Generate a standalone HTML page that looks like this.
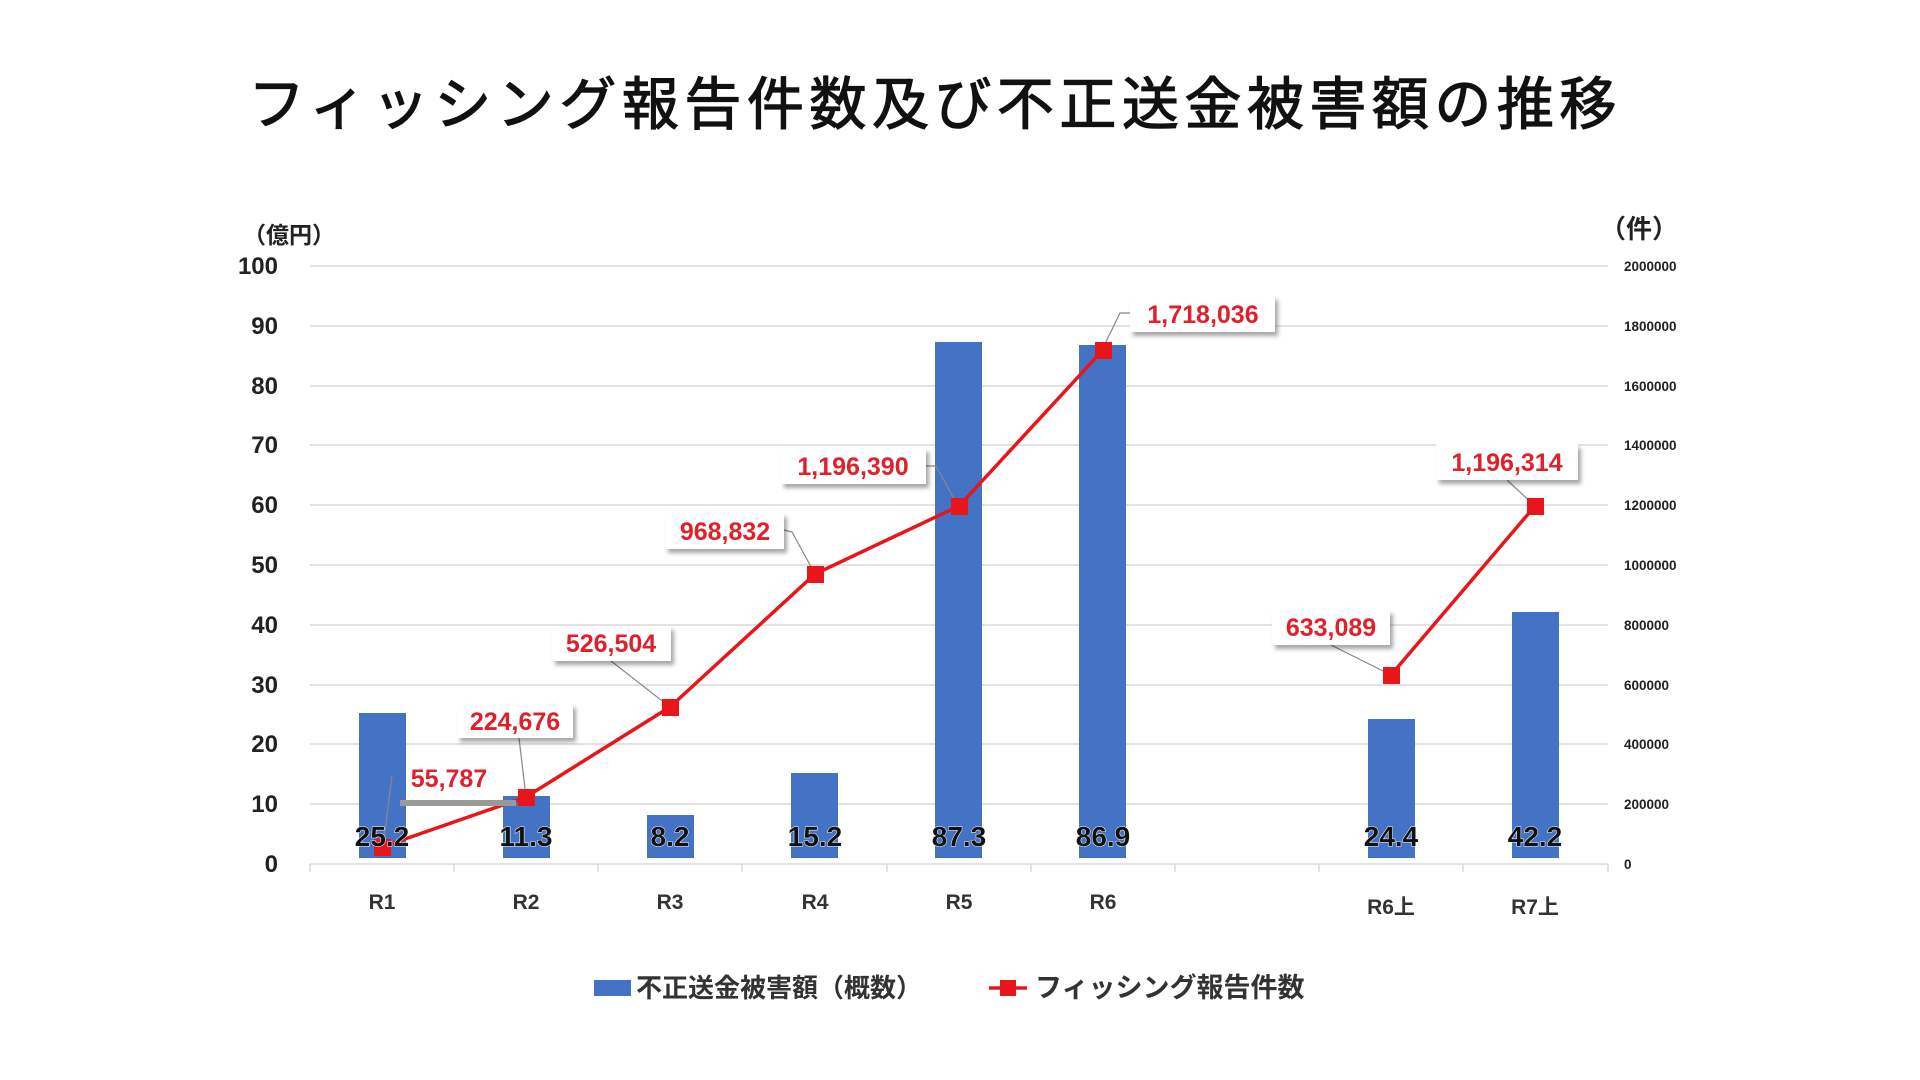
<!DOCTYPE html>
<html><head><meta charset="utf-8"><style>
html,body{margin:0;padding:0;background:#fff;}
svg{display:block;font-family:"Liberation Sans","Noto Sans CJK JP",sans-serif;}
</style></head><body>
<svg width="1920" height="1080" viewBox="0 0 1920 1080" xmlns="http://www.w3.org/2000/svg">
<defs>
<filter id="sh" x="-10%" y="-10%" width="130%" height="150%"><feDropShadow dx="3" dy="4" stdDeviation="2" flood-color="#000" flood-opacity="0.35"/></filter>
</defs>
<text x="935" y="124" font-size="57" text-anchor="middle" letter-spacing="5.5" fill="#111" stroke="#111" stroke-width="1.2" font-family="'Noto Sans CJK JP',sans-serif">フィッシング報告件数及び不正送金被害額の推移</text>
<!-- gridlines -->
<g stroke="#d9d9d9" stroke-width="1.5">
<line x1="310" x2="1608" y1="266" y2="266"/><line x1="310" x2="1608" y1="326" y2="326"/>
<line x1="310" x2="1608" y1="386" y2="386"/><line x1="310" x2="1608" y1="445" y2="445"/>
<line x1="310" x2="1608" y1="505" y2="505"/><line x1="310" x2="1608" y1="565" y2="565"/>
<line x1="310" x2="1608" y1="625" y2="625"/><line x1="310" x2="1608" y1="685" y2="685"/>
<line x1="310" x2="1608" y1="744" y2="744"/><line x1="310" x2="1608" y1="804" y2="804"/>
<line x1="310" x2="1608" y1="864" y2="864"/>
</g>
<g stroke="#d9d9d9" stroke-width="1.5">
<line x1="310" x2="310" y1="864" y2="872"/><line x1="454" x2="454" y1="864" y2="872"/><line x1="598" x2="598" y1="864" y2="872"/><line x1="742" x2="742" y1="864" y2="872"/><line x1="887" x2="887" y1="864" y2="872"/><line x1="1031" x2="1031" y1="864" y2="872"/><line x1="1175" x2="1175" y1="864" y2="872"/><line x1="1319" x2="1319" y1="864" y2="872"/><line x1="1463" x2="1463" y1="864" y2="872"/><line x1="1608" x2="1608" y1="864" y2="872"/>
</g>
<!-- left axis -->
<g font-size="24" font-weight="bold" fill="#222" text-anchor="end">
<text x="278" y="274">100</text><text x="278" y="334">90</text><text x="278" y="394">80</text><text x="278" y="453">70</text><text x="278" y="513">60</text><text x="278" y="573">50</text><text x="278" y="633">40</text><text x="278" y="693">30</text><text x="278" y="752">20</text><text x="278" y="812">10</text><text x="278" y="872">0</text>
</g>
<text x="243" y="243" font-size="23" font-weight="bold" fill="#222">（億円）</text>
<text x="1600" y="238" font-size="26" font-weight="bold" fill="#222">（件）</text>
<g font-size="13.5" font-weight="bold" fill="#222">
<text x="1624" y="271">2000000</text><text x="1624" y="331">1800000</text><text x="1624" y="391">1600000</text><text x="1624" y="450">1400000</text><text x="1624" y="510">1200000</text><text x="1624" y="570">1000000</text><text x="1624" y="630">800000</text><text x="1624" y="690">600000</text><text x="1624" y="749">400000</text><text x="1624" y="809">200000</text><text x="1624" y="869">0</text>
</g>
<!-- bars -->
<g fill="#4472C4">
<rect x="359" y="713" width="47" height="145"/>
<rect x="503" y="796" width="47" height="62"/>
<rect x="647" y="815" width="47" height="43"/>
<rect x="791" y="773" width="47" height="85"/>
<rect x="935" y="342" width="47" height="516"/>
<rect x="1079" y="345" width="47" height="513"/>
<rect x="1368" y="719" width="47" height="139"/>
<rect x="1512" y="612" width="47" height="246"/>
</g>
<!-- leader lines -->
<g stroke="#888" stroke-width="1.2" fill="none">
<polyline points="392,775 383,848"/>
<polyline points="519,738 526,797"/>
<polyline points="611,661 670,707"/>
<polyline points="784,530 792,532 815,574"/>
<polyline points="926,466 936,466 958,506"/>
<polyline points="1130,313 1120,313 1102,350"/>
<polyline points="1331,645 1391,675"/>
<polyline points="1507,480 1535,506"/>
</g>
<!-- line -->
<polyline fill="none" stroke="#e8161b" stroke-width="3.5" points="382,847 526,797 670,707 815,574 959,506 1103,350"/>
<polyline fill="none" stroke="#e8161b" stroke-width="3.5" points="1391,675 1535,506"/>
<g fill="#e8161b">
<rect x="374" y="839" width="17" height="17"/><rect x="518" y="789" width="17" height="17"/><rect x="662" y="699" width="17" height="17"/><rect x="807" y="566" width="17" height="17"/><rect x="951" y="498" width="17" height="17"/><rect x="1095" y="342" width="17" height="17"/><rect x="1383" y="667" width="17" height="17"/><rect x="1527" y="498" width="17" height="17"/>
</g>
<!-- value labels -->
<g font-size="28" font-weight="bold" fill="#111" text-anchor="middle" stroke="#fff" stroke-width="1" paint-order="stroke">
<text x="382" y="846">25.2</text><text x="526" y="846">11.3</text><text x="670" y="846">8.2</text><text x="815" y="846">15.2</text><text x="959" y="846">87.3</text><text x="1103" y="846">86.9</text><text x="1391" y="846">24.4</text><text x="1535" y="846">42.2</text>
</g>
<!-- data label boxes -->
<rect x="400" y="800" width="116" height="6" fill="#999"/>
<g fill="#fff" filter="url(#sh)">
<rect x="457" y="704" width="116" height="34"/>
<rect x="552" y="626" width="119" height="35"/>
<rect x="665" y="513" width="119" height="36"/>
<rect x="781" y="448" width="145" height="36"/>
<rect x="1130" y="296" width="145" height="36"/>
<rect x="1272" y="610" width="118" height="35"/>
<rect x="1436" y="444" width="142" height="36"/>
</g>
<g font-size="25" font-weight="bold" fill="#e0202a" text-anchor="middle">
<text x="449" y="787">55,787</text>
<text x="515" y="730">224,676</text>
<text x="611" y="652">526,504</text>
<text x="725" y="540">968,832</text>
<text x="853" y="475">1,196,390</text>
<text x="1203" y="323">1,718,036</text>
<text x="1331" y="636">633,089</text>
<text x="1507" y="471">1,196,314</text>
</g>
<!-- category labels -->
<g font-size="21" font-weight="bold" fill="#333" text-anchor="middle">
<text x="382" y="909">R1</text><text x="526" y="909">R2</text><text x="670" y="909">R3</text><text x="815" y="909">R4</text><text x="959" y="909">R5</text><text x="1103" y="909">R6</text><text x="1391" y="914">R6上</text><text x="1535" y="914">R7上</text>
</g>
<!-- legend -->
<rect x="594" y="980" width="37" height="16" fill="#4472C4"/>
<text x="636" y="997" font-size="26" font-weight="bold" fill="#333">不正送金被害額（概数）</text>
<line x1="989" x2="1027" y1="988" y2="988" stroke="#e8161b" stroke-width="3.5"/>
<rect x="1000" y="980" width="16" height="16" fill="#e8161b"/>
<text x="1035" y="997" font-size="27" font-weight="bold" fill="#333">フィッシング報告件数</text>
</svg>
</body></html>
